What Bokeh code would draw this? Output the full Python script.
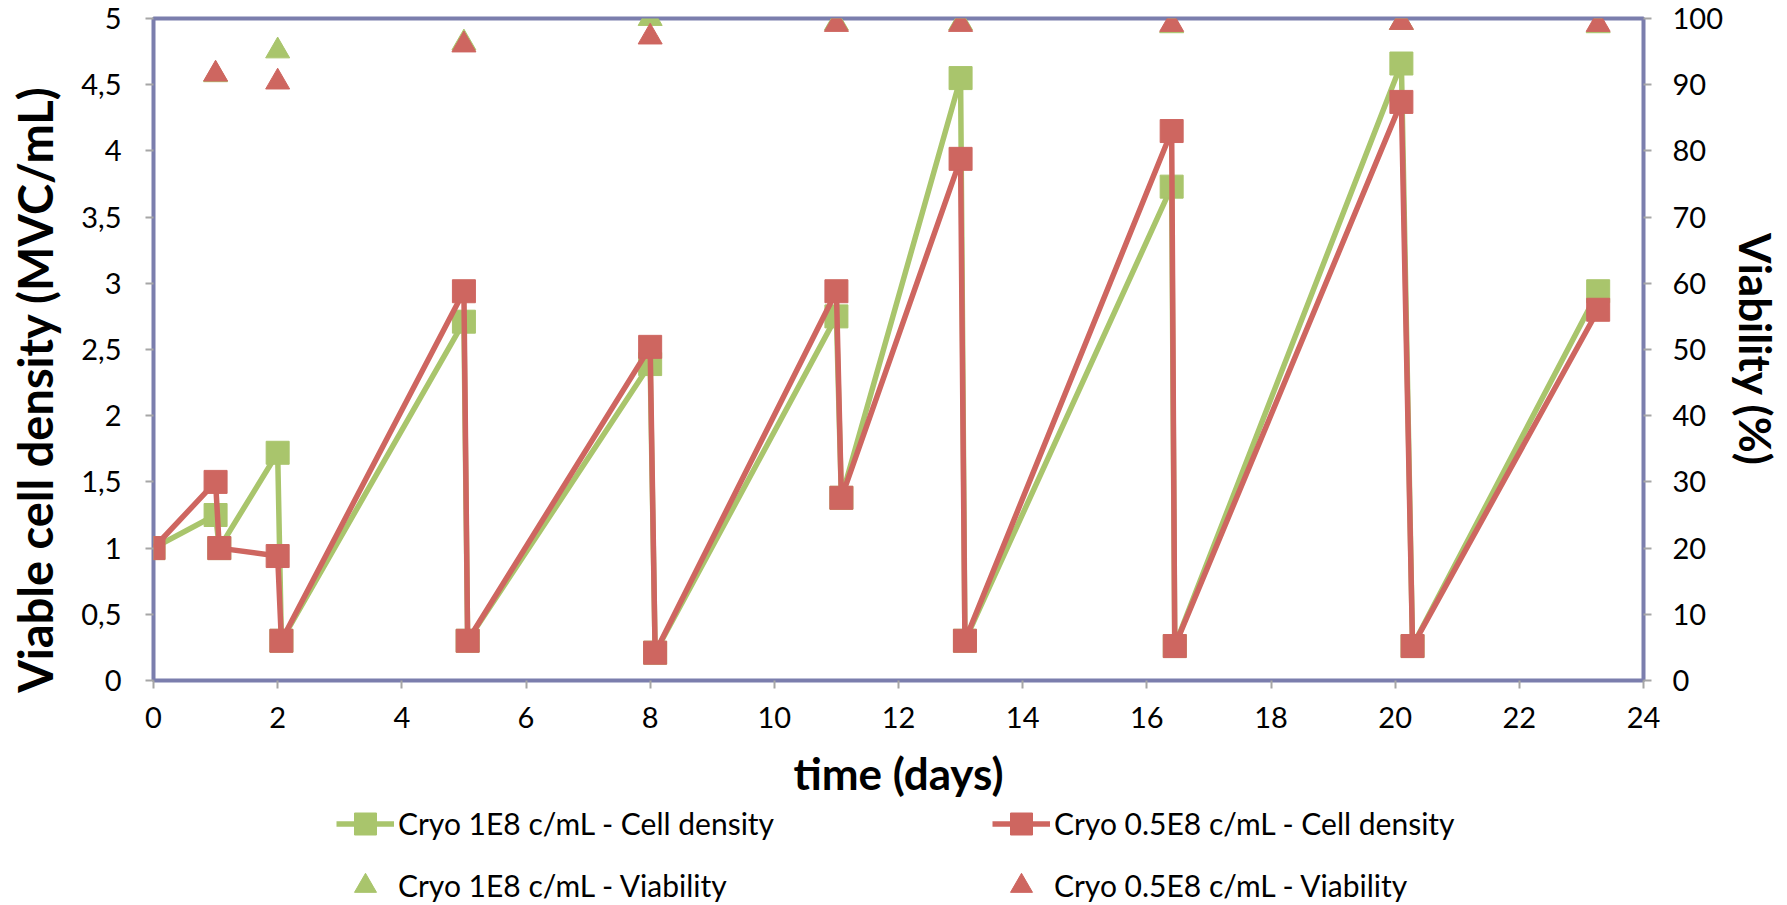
from bokeh.plotting import figure
from bokeh.models import Range1d, LinearAxis, FixedTicker, Legend, LegendItem
from bokeh.layouts import column
from bokeh.core.properties import value
from bokeh.embed import file_html
from bokeh.resources import INLINE

# ---- data ----
time_days = [0, 1, 1.06, 2, 2.06, 5, 5.06, 8, 8.08, 11, 11.08, 13, 13.07, 16.4, 16.45, 20.1, 20.28, 23.27]
density_1e8 = [1.0, 1.25, 1.0, 1.72, 0.3, 2.71, 0.3, 2.39, 0.21, 2.75, 1.38, 4.55, 0.3, 3.73, 0.26, 4.66, 0.26, 2.94]
density_05e8 = [1.0, 1.5, 1.0, 0.94, 0.3, 2.94, 0.3, 2.52, 0.21, 2.94, 1.38, 3.94, 0.3, 4.15, 0.26, 4.37, 0.26, 2.80]

viab_time = [1, 2, 5, 8, 11, 13, 16.4, 20.1, 23.27]
viab_1e8 = [91.5, 95.1, 96.3, 100.0, 99.3, 99.3, 98.9, 99.4, 98.9]
viab_05e8 = [91.6, 90.4, 96.0, 97.2, 99.1, 99.1, 99.1, 99.4, 99.1]

x_ticks = [0, 2, 4, 6, 8, 10, 12, 14, 16, 18, 20, 22, 24]
y_ticks = [0, 0.5, 1, 1.5, 2, 2.5, 3, 3.5, 4, 4.5, 5]
y_tick_labels = ["0", "0,5", "1", "1,5", "2", "2,5", "3", "3,5", "4", "4,5", "5"]
v_ticks = [0, 10, 20, 30, 40, 50, 60, 70, 80, 90, 100]

labels = ["Cryo 1E8 c/mL - Cell density", "Cryo 0.5E8 c/mL - Cell density",
          "Cryo 1E8 c/mL - Viability", "Cryo 0.5E8 c/mL - Viability"]

GREEN = "#A9C56C"
RED = "#CE6660"
FRAME = "#7B7EAD"
TICK = "#A6A6A6"
FONT = "Lato"
NBSP = "\u00A0"
LW = 5.5
SQ = 23
TRI = 24

W = 1787
MAIN_H = 804
LEG_H = 905 - MAIN_H
FRAME_LEFT = 153

p = figure(width=W, height=MAIN_H, output_backend="svg", toolbar_location=None,
           x_range=Range1d(0, 24), y_range=Range1d(0, 5),
           min_border_left=FRAME_LEFT, min_border_right=144, min_border_top=18,
           min_border_bottom=MAIN_H - 680)
p.extra_y_ranges = {"v": Range1d(0, 100)}
p.grid.visible = False
p.outline_line_color = FRAME
p.outline_line_width = 4
p.background_fill_color = "white"
p.border_fill_color = "white"

right = LinearAxis(y_range_name="v")
p.add_layout(right, "right")

def style(ax):
    ax.axis_line_color = None
    ax.major_tick_line_color = TICK
    ax.major_tick_line_width = 2
    ax.major_tick_out = 8
    ax.major_tick_in = 0
    ax.minor_tick_line_color = None
    ax.major_label_text_font = FONT
    ax.major_label_text_font_size = "29px"
    ax.major_label_text_color = "black"
    ax.axis_label_text_font = FONT
    ax.axis_label_text_font_style = "bold"
    ax.axis_label_text_font_size = "44px"
    ax.axis_label_text_color = "black"

xa = p.xaxis[0]
ya = p.yaxis[0]
for ax in (xa, ya, right):
    style(ax)

xa.ticker = FixedTicker(ticks=x_ticks)
xa.axis_label = "time (days)"
xa.major_label_standoff = 18
xa.axis_label_standoff = 16

ya.ticker = FixedTicker(ticks=y_ticks)
ya.major_label_overrides = {t: s for t, s in zip(y_ticks, y_tick_labels)}
ya.axis_label = "Viable cell density (MVC/mL)" + NBSP * 7
ya.axis_label_text_font_size = "47px"
ya.major_label_standoff = 24
ya.axis_label_standoff = 15

right.ticker = FixedTicker(ticks=v_ticks)
right.axis_label = "Viability (%)"
right.major_label_standoff = 21
right.axis_label_standoff = 4

def draw(fig):
    rs = {}
    rs["g_line"] = fig.line(time_days, density_1e8, line_color=GREEN, line_width=LW, line_join="round")
    rs["g_sq"] = fig.scatter(time_days, density_1e8, marker="square", size=SQ, fill_color=GREEN, line_color=GREEN)
    rs["r_line"] = fig.line(time_days, density_05e8, line_color=RED, line_width=LW, line_join="round")
    rs["r_sq"] = fig.scatter(time_days, density_05e8, marker="square", size=SQ, fill_color=RED, line_color=RED)
    rs["g_tri"] = fig.scatter(viab_time, viab_1e8, marker="triangle", size=TRI, fill_color=GREEN, line_color=GREEN, y_range_name="v")
    rs["r_tri"] = fig.scatter(viab_time, viab_05e8, marker="triangle", size=TRI, fill_color=RED, line_color=RED, y_range_name="v")
    return rs

draw(p)

# ---- legend strip below the chart ----
# it carries its own copies of the series, kept out of its (empty) view,
# so that the legend can draw their glyphs
leg = figure(width=W, height=LEG_H, output_backend="svg", toolbar_location=None,
             x_range=Range1d(100, 101), y_range=Range1d(100, 101),
             x_axis_location=None, y_axis_location=None, min_border=0)
leg.extra_y_ranges = {"v": Range1d(1000, 1001)}
leg.grid.visible = False
leg.outline_line_color = None
leg.background_fill_color = "white"
leg.border_fill_color = "white"
lr = draw(leg)

row1 = 823 - MAIN_H          # centre of first legend row, px from top of strip
glyph_h = 55
spacing = 7
leg_height = 2 * glyph_h + spacing
leg_bottom = row1 - glyph_h / 2 + leg_height

legend = Legend(items=[
    LegendItem(label=value(labels[0]), renderers=[lr["g_line"], lr["g_sq"]]),
    LegendItem(label=value(labels[2]), renderers=[lr["g_tri"]]),
    LegendItem(label=value(labels[1]), renderers=[lr["r_line"], lr["r_sq"]]),
    LegendItem(label=value(labels[3]), renderers=[lr["r_tri"]]),
], location=(336 - FRAME_LEFT, LEG_H - leg_bottom), orientation="vertical", ncols=2,
    glyph_width=58, glyph_height=glyph_h, label_height=glyph_h, label_width=587,
    label_standoff=4, spacing=spacing, padding=0, margin=0,
    border_line_color=None, background_fill_alpha=0,
    label_text_font=FONT, label_text_font_size="30px", label_text_color="black")
leg.add_layout(legend, "center")

layout = column(p, leg, spacing=0)
open("out.html", "w").write(file_html(layout, INLINE))
